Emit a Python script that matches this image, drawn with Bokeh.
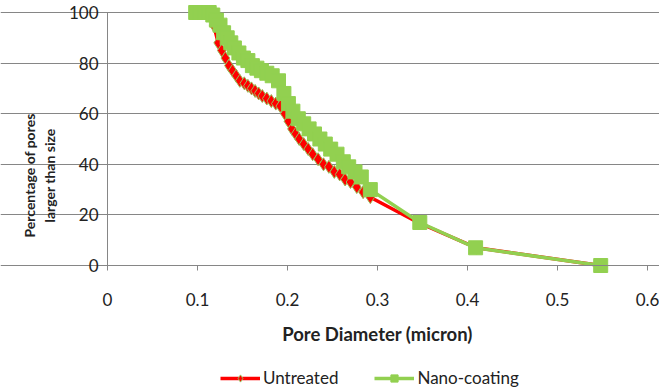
import math
from bokeh.plotting import figure
from bokeh.models import (ColumnDataSource, Legend, LegendItem, FixedTicker,
                          NumeralTickFormatter, Label)
from bokeh.embed import file_html
from bokeh.resources import INLINE

# Untreated (red diamonds)
untreated_x = [0.098, 0.105, 0.112, 0.118, 0.123, 0.127, 0.131, 0.135, 0.139, 0.143,
               0.147, 0.152, 0.156, 0.160, 0.164, 0.168, 0.172, 0.177, 0.182, 0.187,
               0.192, 0.197, 0.201, 0.205, 0.209, 0.213, 0.218, 0.223, 0.228, 0.234,
               0.240, 0.246, 0.252, 0.258, 0.264, 0.270, 0.277, 0.284, 0.292, 0.345,
               0.410, 0.548]
untreated_y = [100, 100, 99, 95, 88, 85, 82, 79, 77, 75,
               73, 72, 71, 70, 69, 68, 67, 66, 65, 64,
               63, 60, 57, 54, 52, 50, 48, 46, 44, 42,
               40, 39, 37, 36, 34, 33, 31, 29, 27, 17,
               7, 0]

# Nano-coating (green squares)
nano_x = [0.098, 0.103, 0.108, 0.113, 0.117, 0.121, 0.125, 0.129, 0.133, 0.137,
          0.141, 0.146, 0.151, 0.156, 0.161, 0.166, 0.171, 0.177, 0.183, 0.190,
          0.196, 0.201, 0.206, 0.212, 0.218, 0.224, 0.230, 0.236, 0.242, 0.248,
          0.255, 0.262, 0.268, 0.275, 0.282, 0.292, 0.347, 0.409, 0.548]
nano_y = [100, 100, 100, 100, 99, 97, 95, 92, 90, 88,
          86, 84, 82, 81, 79, 78, 77, 76, 75, 73,
          68, 64, 61, 58, 56, 54, 52, 50, 48, 46,
          44, 41, 39, 37, 35, 30, 17, 7, 0]

x_ticks = [0, 0.1, 0.2, 0.3, 0.4, 0.5, 0.6]
y_ticks = [0, 20, 40, 60, 80, 100]

FONT = "Lato"
GRID = "#868686"
TXT = "#222222"

# Layout in pixels: the whole canvas is the frame; plot area spans
# x 107..647 px and y 12..265 px (from top).
W, H = 659, 388
PX_X = 540 / (x_ticks[-1] - x_ticks[0])
PX_Y = 253 / (y_ticks[-1] - y_ticks[0])
x_lo = x_ticks[0] - 107 / PX_X
x_hi = x_ticks[-1] + (W - 647) / PX_X
y_lo = y_ticks[0] - (H - 265) / PX_Y
y_hi = y_ticks[-1] + 12 / PX_Y


def px_to_x(px):
    return x_ticks[0] + (px - 107) / PX_X


def py_to_y(py):
    return y_ticks[0] + (265 - py) / PX_Y


p = figure(width=W, height=H, output_backend="svg", toolbar_location=None,
           x_range=(x_lo, x_hi), y_range=(y_lo, y_hi),
           min_border_left=0, min_border_right=0, min_border_top=0,
           min_border_bottom=0)
p.outline_line_color = None
p.background_fill_color = "white"

src_u = ColumnDataSource(dict(x=untreated_x, y=untreated_y))
src_n = ColumnDataSource(dict(x=nano_x, y=nano_y))

lu = p.line("x", "y", source=src_u, line_color="#FF0000", line_width=3.5)
ln = p.line("x", "y", source=src_n, line_color="#92D050", line_width=3.5)
su = p.scatter("x", "y", source=src_u, marker="diamond", size=13,
               fill_color="#FF0000", line_color="#9BBB59", line_width=1)
sn = p.scatter("x", "y", source=src_n, marker="square", size=14,
               fill_color="#92D050", line_color="#92D050", line_width=1)

# axes, drawn inside the canvas at the data origin
p.xaxis.ticker = FixedTicker(ticks=x_ticks)
p.yaxis.ticker = FixedTicker(ticks=y_ticks)
p.xaxis.formatter = NumeralTickFormatter(format="0.[0]")
for ax in (p.xaxis, p.yaxis):
    ax.axis_line_color = GRID
    ax.major_tick_line_color = GRID
    ax.minor_tick_line_color = None
    ax.major_tick_in = 0
    ax.major_tick_out = 5
    ax.major_label_text_font = FONT
    ax.major_label_text_font_size = "17px"
    ax.major_label_text_color = TXT
    ax.axis_label = None

p.xaxis.fixed_location = y_ticks[0]
p.xaxis.bounds = (x_ticks[0], x_ticks[-1])
p.xaxis.major_label_standoff = 22
p.yaxis.fixed_location = x_ticks[0]
p.yaxis.bounds = (y_ticks[0], y_ticks[-1])
p.yaxis.major_label_standoff = 4

p.xgrid.grid_line_color = None
p.ygrid.grid_line_color = GRID
p.ygrid.grid_line_width = 1
p.ygrid.bounds = (x_ticks[0], x_ticks[-1])

# axis titles
p.add_layout(Label(x=px_to_x(377), y=py_to_y(333), text="Pore Diameter (micron)",
                   text_font=FONT, text_font_size="18.5px", text_font_style="bold",
                   text_color=TXT, text_align="center", text_baseline="middle"))
p.add_layout(Label(x=px_to_x(39), y=py_to_y(175),
                   text="Percentage of pores\nlarger than size",
                   angle=math.pi / 2, text_font=FONT, text_font_size="14px",
                   text_font_style="bold", text_color=TXT,
                   text_align="center", text_baseline="middle"))

legend = Legend(items=[LegendItem(label="Untreated", renderers=[lu, su]),
                       LegendItem(label="Nano-coating", renderers=[ln, sn])],
                orientation="horizontal", location=(220, 0))
legend.label_text_font = FONT
legend.label_text_font_size = "17px"
legend.label_text_color = TXT
legend.glyph_width = 40
legend.glyph_height = 18
legend.label_height = 18
legend.label_standoff = 3
legend.spacing = 36
legend.border_line_color = None
legend.background_fill_alpha = 0
legend.margin = 0
legend.padding = 2
p.add_layout(legend, "center")

open("out.html", "w").write(file_html(p, INLINE))
